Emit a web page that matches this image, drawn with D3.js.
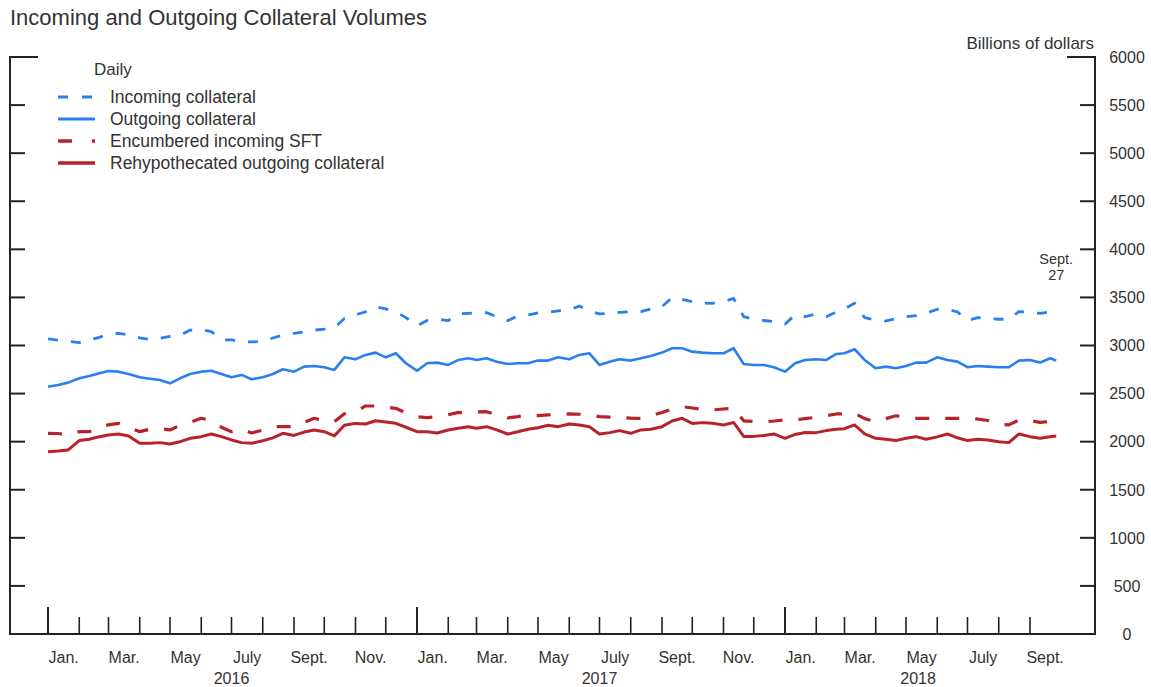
<!DOCTYPE html>
<html>
<head>
<meta charset="utf-8">
<script src="https://cdn.jsdelivr.net/npm/d3@7"></script>
<style>
  html, body { margin: 0; padding: 0; background: #fff; }
  svg { display: block; }
  text { font-family: "Liberation Sans", Arial, sans-serif; fill: #333; }
</style>
</head>
<body>
<div id="chart"></div>
<script>
// ---------- DATA ----------
const dates = [
  "2016-01-01","2016-01-11","2016-01-21","2016-02-01","2016-02-11","2016-02-21",
  "2016-03-01","2016-03-11","2016-03-21","2016-04-01","2016-04-11","2016-04-21",
  "2016-05-01","2016-05-11","2016-05-21","2016-06-01","2016-06-11","2016-06-21",
  "2016-07-01","2016-07-11","2016-07-21","2016-08-01","2016-08-11","2016-08-21",
  "2016-09-01","2016-09-11","2016-09-21","2016-10-01","2016-10-11","2016-10-21",
  "2016-11-01","2016-11-11","2016-11-21","2016-12-01","2016-12-11","2016-12-21",
  "2017-01-01","2017-01-11","2017-01-21","2017-02-01","2017-02-11","2017-02-21",
  "2017-03-01","2017-03-11","2017-03-21","2017-04-01","2017-04-11","2017-04-21",
  "2017-05-01","2017-05-11","2017-05-21","2017-06-01","2017-06-11","2017-06-21",
  "2017-07-01","2017-07-11","2017-07-21","2017-08-01","2017-08-11","2017-08-21",
  "2017-09-01","2017-09-11","2017-09-21","2017-10-01","2017-10-11","2017-10-21",
  "2017-11-01","2017-11-11","2017-11-21","2017-12-01","2017-12-11","2017-12-21",
  "2018-01-01","2018-01-11","2018-01-21","2018-02-01","2018-02-11","2018-02-21",
  "2018-03-01","2018-03-11","2018-03-21","2018-04-01","2018-04-11","2018-04-21",
  "2018-05-01","2018-05-11","2018-05-21","2018-06-01","2018-06-11","2018-06-21",
  "2018-07-01","2018-07-11","2018-07-21","2018-08-01","2018-08-11","2018-08-21",
  "2018-09-01","2018-09-11","2018-09-21","2018-09-27"
];

const incomingCollateral = [
  3068,3055,3045, 3030,3058,3085, 3120,3127,3112, 3080,3062,3075,
  3095,3105,3160, 3165,3145,3060, 3058,3040,3037, 3042,3078,3110,
  3127,3140,3160, 3170,3186,3280, 3320,3350,3404, 3380,3350,3290,
  3203,3260,3275, 3258,3328,3335, 3338,3342,3300, 3258,3307,3318,
  3340,3345,3360, 3370,3410,3360, 3328,3335,3345, 3352,3352,3380,
  3404,3500,3480, 3456,3440,3439, 3456,3490,3300, 3273,3260,3248,
  3221,3320,3300, 3328,3300,3350, 3380,3439,3290, 3266,3255,3280,
  3300,3310,3335, 3377,3375,3350, 3258,3290,3280, 3273,3273,3352,
  3345,3335,3350, 3366
];

const outgoingCollateral = [
  2572,2590,2614, 2659,2683,2711, 2735,2728,2704, 2670,2655,2642,
  2607,2659,2704, 2728,2738,2704, 2670,2694,2649, 2670,2704,2753,
  2728,2780,2787, 2774,2746,2877, 2857,2902,2926, 2877,2919,2815,
  2738,2815,2822, 2798,2850,2867, 2850,2867,2832, 2808,2815,2815,
  2843,2843,2877, 2857,2902,2919, 2798,2832,2857, 2843,2867,2891,
  2926,2971,2971, 2936,2926,2919, 2919,2971,2808, 2798,2798,2774,
  2728,2815,2850, 2857,2850,2912, 2919,2961,2850, 2763,2780,2763,
  2787,2822,2822, 2877,2850,2832, 2774,2787,2780, 2774,2774,2843,
  2850,2822,2867, 2843
];

const encumberedIncomingSFT = [
  2087,2085,2070, 2104,2104,2156, 2175,2191,2150, 2104,2130,2135,
  2122,2170,2200, 2243,2220,2150, 2104,2130,2090, 2120,2156,2156,
  2156,2200,2243, 2220,2208,2290, 2310,2371,2371, 2360,2347,2300,
  2260,2250,2260, 2280,2304,2300, 2310,2312,2280, 2246,2260,2278,
  2270,2278,2285, 2288,2285,2278, 2260,2255,2252, 2245,2243,2270,
  2304,2340,2364, 2350,2335,2330, 2340,2347,2217, 2210,2208,2215,
  2226,2226,2240, 2254,2270,2288, 2288,2295,2240, 2208,2240,2269,
  2255,2243,2243, 2243,2243,2243, 2240,2236,2220, 2180,2174,2226,
  2220,2200,2210, 2226
];

const rehypothecatedOutgoing = [
  1896,1903,1914, 2011,2025,2052, 2070,2080,2059, 1983,1983,1990,
  1976,2000,2035, 2052,2080,2052, 2018,1990,1983, 2010,2040,2087,
  2065,2100,2122, 2104,2060,2170, 2190,2184,2218, 2205,2191,2150,
  2104,2104,2090, 2122,2139,2156, 2139,2156,2122, 2080,2104,2129,
  2145,2170,2156, 2184,2174,2156, 2080,2094,2115, 2087,2122,2129,
  2156,2215,2243, 2190,2198,2191, 2174,2200,2055, 2055,2065,2080,
  2035,2075,2095, 2094,2115,2129, 2135,2174,2080, 2035,2025,2011,
  2035,2052,2025, 2050,2080,2040, 2011,2025,2018, 2000,1990,2080,
  2052,2035,2052, 2059
];

const seriesNames = ["Incoming collateral", "Outgoing collateral", "Encumbered incoming SFT", "Rehypothecated outgoing collateral"];
const yTicks = [0, 500, 1000, 1500, 2000, 2500, 3000, 3500, 4000, 4500, 5000, 5500, 6000];
const monthLabels = ["Jan.", "Mar.", "May", "July", "Sept.", "Nov."];
const yearLabels = [["2016", "2016-07-01"], ["2017", "2017-07-01"], ["2018", "2018-05-13"]];
const tickStart = "2016-01-01", tickEnd = "2018-09-01";
const lastDate = "2018-09-27";

// ---------- CHART ----------
(function () {
const W = 1151, H = 687;
const parse = d3.utcParse("%Y-%m-%d");
const pLeft = 10, pRight = 1095, pTop = 57, pBottom = 634;

const x = d3.scaleUtc().domain([parse("2016-01-01"), parse("2018-01-01")]).range([48, 785]);
const y = d3.scaleLinear().domain([0, 6000]).range([pBottom, pTop]);

const svg = d3.select("#chart").append("svg").attr("width", W).attr("height", H);
svg.append("rect").attr("width", W).attr("height", H).attr("fill", "#fff");

const BLUE = "#2a7ff0", RED = "#b8232b", AX = "#222";

svg.append("text").attr("x", 10).attr("y", 25).attr("font-size", 22).text("Incoming and Outgoing Collateral Volumes");
svg.append("text").attr("x", 1094).attr("y", 49).attr("font-size", 17).attr("text-anchor", "end").text("Billions of dollars");

const g = svg.append("g");
g.append("line").attr("x1", pLeft).attr("x2", pLeft).attr("y1", pTop - 1).attr("y2", pBottom).attr("stroke", AX).attr("stroke-width", 2);
g.append("line").attr("x1", pRight).attr("x2", pRight).attr("y1", pTop - 1).attr("y2", pBottom).attr("stroke", AX).attr("stroke-width", 2);
g.append("line").attr("x1", pLeft - 1).attr("x2", pRight + 1).attr("y1", pBottom).attr("y2", pBottom).attr("stroke", AX).attr("stroke-width", 2);

yTicks.forEach(v => {
  if (v === 0) return;
  const isTop = v === 6000;
  g.append("line").attr("x1", pLeft).attr("x2", pLeft + (isTop ? 28 : 15)).attr("y1", y(v)).attr("y2", y(v)).attr("stroke", AX).attr("stroke-width", 2);
  g.append("line").attr("x1", pRight).attr("x2", pRight - (isTop ? 28 : 15)).attr("y1", y(v)).attr("y2", y(v)).attr("stroke", AX).attr("stroke-width", 2);
});
yTicks.forEach(v => {
  svg.append("text").attr("x", 1127).attr("y", y(v)).attr("dy", "0.36em").attr("font-size", 16)
    .attr("text-anchor", "middle").text(v);
});

const months = d3.utcMonth.range(parse(tickStart), d3.utcDay.offset(parse(tickEnd), 1));
months.forEach(m => {
  const major = m.getUTCMonth() === 0;
  g.append("line").attr("x1", x(m)).attr("x2", x(m)).attr("y1", pBottom).attr("y2", pBottom - (major ? 27 : 17))
    .attr("stroke", AX).attr("stroke-width", major ? 2 : 1.6);
});
months.forEach(m => {
  if (m.getUTCMonth() % 2 !== 0) return;
  const mid = new Date((+m + +d3.utcMonth.offset(m, 1)) / 2);
  svg.append("text").attr("x", x(mid)).attr("y", 663).attr("font-size", 16).attr("text-anchor", "middle")
    .text(monthLabels[m.getUTCMonth() / 2]);
});
yearLabels.forEach(([t, d]) => {
  svg.append("text").attr("x", x(parse(d))).attr("y", 684).attr("font-size", 16).attr("text-anchor", "middle").text(t);
});

const pd = dates.map(parse);
const mk = vals => pd.map((d, i) => [d, vals[i]]);
const line = d3.line().x(d => x(d[0])).y(d => y(d[1]));
const series = [
  { vals: encumberedIncomingSFT, color: RED, dash: "14,16", w: 3.2 },
  { vals: rehypothecatedOutgoing, color: RED, dash: null, w: 3 },
  { vals: incomingCollateral, color: BLUE, dash: "10,13", w: 2.8 },
  { vals: outgoingCollateral, color: BLUE, dash: null, w: 2.6 }
];
series.forEach(s => {
  svg.append("path").datum(mk(s.vals)).attr("d", line).attr("fill", "none")
    .attr("stroke", s.color).attr("stroke-width", s.w).attr("stroke-linejoin", "round")
    .attr("stroke-dasharray", s.dash);
});

const ax = x(parse(lastDate));
svg.append("text").attr("x", ax).attr("y", 264).attr("font-size", 14.5).attr("text-anchor", "middle").text("Sept.");
svg.append("text").attr("x", ax).attr("y", 280).attr("font-size", 14.5).attr("text-anchor", "middle").text("27");

svg.append("text").attr("x", 94).attr("y", 75).attr("font-size", 17).text("Daily");
const legend = [
  { name: seriesNames[0], color: BLUE, dash: "10,14", w: 3 },
  { name: seriesNames[1], color: BLUE, dash: null, w: 3 },
  { name: seriesNames[2], color: RED, dash: "14,20", w: 3.5 },
  { name: seriesNames[3], color: RED, dash: null, w: 3.5 }
];
legend.forEach((l, i) => {
  const ly = 97 + i * 22;
  svg.append("line").attr("x1", 58).attr("x2", 95).attr("y1", ly).attr("y2", ly)
    .attr("stroke", l.color).attr("stroke-width", l.w).attr("stroke-dasharray", l.dash);
  svg.append("text").attr("x", 110).attr("y", ly + 6).attr("font-size", 17.5).text(l.name);
});
})();
</script>
</body>
</html>
